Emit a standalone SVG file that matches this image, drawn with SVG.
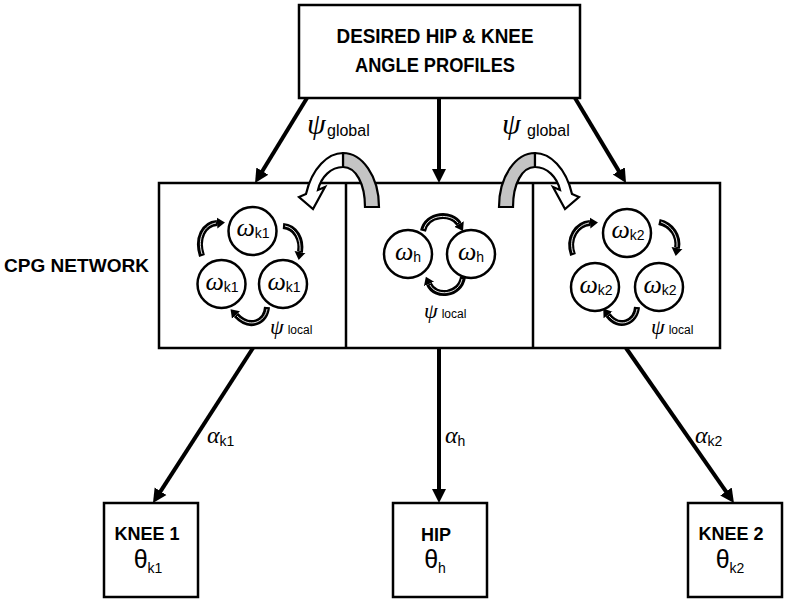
<svg xmlns="http://www.w3.org/2000/svg" width="787" height="602" viewBox="0 0 787 602">
<defs>
<style>
.box{fill:#fff;stroke:#000;stroke-width:2.5}
.div{stroke:#000;stroke-width:2.5}
.conn{fill:none;stroke:#000;stroke-width:4;marker-end:url(#ah)}
.cir{fill:#fff;stroke:#000;stroke-width:2.5}
.sa{fill:none;stroke:#000;stroke-width:6;marker-end:url(#sh)}
.sw{fill:none;stroke:#fff;stroke-width:0.9}
.bt{font-family:"Liberation Sans",Arial,sans-serif;font-weight:bold;fill:#000}
.gk{font-family:"Liberation Serif","DejaVu Serif",serif;font-style:italic;fill:#000}
.ss{font-family:"Liberation Sans",Arial,sans-serif;fill:#000}
.th{font-family:"Liberation Sans",Arial,sans-serif;fill:#000}
.arcw{fill:#fff;stroke:#000;stroke-width:2.2;stroke-linejoin:miter}
.arcg{fill:#c4c4c4;stroke:#000;stroke-width:2.2}
</style>
<marker id="ah" markerUnits="userSpaceOnUse" markerWidth="16" markerHeight="16" viewBox="0 -8 16 16" refX="6" refY="0" orient="auto">
<path d="M0,-7 L14,0 L0,7 Z" fill="#000"/>
</marker>
<marker id="sh" markerUnits="userSpaceOnUse" markerWidth="11" markerHeight="13" viewBox="0 -6.5 11 13" refX="0" refY="0" orient="auto">
<path d="M0,-5.5 L8,0 L0,5.5 Z" fill="#000"/>
</marker>
<g id="carc">
<path class="arcg" d="M343,153 C362,153 379,176 379,207 L365,207 C365,184 356,167 343,167 Z"/>
<path class="arcw" d="M343,153 C328,153 312,168 306,194 L299,197 L313,209 L325,187 L318,190 C321,177 331,167 343,167 Z"/>
</g>
</defs>
<rect width="787" height="602" fill="#fff"/>

<g id="connectors">
<line class="conn" x1="307" y1="98" x2="259.2" y2="176.2"/>
<line class="conn" x1="439" y1="98" x2="439" y2="175"/>
<line class="conn" x1="575" y1="98" x2="621.9" y2="176.1"/>
<line class="conn" x1="253" y1="348" x2="157.3" y2="496.3"/>
<line class="conn" x1="439" y1="348" x2="439" y2="495"/>
<line class="conn" x1="626" y1="348" x2="729.4" y2="496.4"/>
<g id="label-alpha-k1"><text x="207" y="443"><tspan class="gk" font-size="24">α</tspan><tspan class="ss" font-size="14" dy="3">k1</tspan></text></g>
<g id="label-alpha-h"><text x="445" y="443"><tspan class="gk" font-size="24">α</tspan><tspan class="ss" font-size="14" dy="3">h</tspan></text></g>
<g id="label-alpha-k2"><text x="695" y="443"><tspan class="gk" font-size="24">α</tspan><tspan class="ss" font-size="14" dy="3">k2</tspan></text></g>
</g>

<g id="desired">
<rect class="box" x="299" y="5" width="281" height="93"/>
<text class="bt" x="435" y="43" font-size="19.5" text-anchor="middle" textLength="197" lengthAdjust="spacingAndGlyphs">DESIRED HIP &amp; KNEE</text>
<text class="bt" x="435" y="72" font-size="19.5" text-anchor="middle" textLength="160" lengthAdjust="spacingAndGlyphs">ANGLE PROFILES</text>
</g>

<g id="cpg-label">
<text class="bt" x="4" y="272" font-size="19" textLength="145" lengthAdjust="spacingAndGlyphs">CPG NETWORK</text>
</g>

<g id="cpg-network">
<rect class="box" x="159" y="183" width="561" height="165"/>
<line class="div" x1="346" y1="183" x2="346" y2="348"/>
<line class="div" x1="533" y1="183" x2="533" y2="348"/>
</g>

<g id="cpg-knee1">
<circle class="cir" cx="252.5" cy="231" r="24"/>
<circle class="cir" cx="221.5" cy="284" r="24"/>
<circle class="cir" cx="283" cy="284" r="24"/>
<text x="253" y="236" text-anchor="middle"><tspan class="gk" font-size="26">ω</tspan><tspan class="ss" font-size="14" dy="2">k1</tspan></text>
<text x="222" y="290" text-anchor="middle"><tspan class="gk" font-size="26">ω</tspan><tspan class="ss" font-size="14" dy="2">k1</tspan></text>
<text x="284" y="290" text-anchor="middle"><tspan class="gk" font-size="26">ω</tspan><tspan class="ss" font-size="14" dy="2">k1</tspan></text>
<path class="sa" d="M202,256 C196,238 204,224 217,223"/>
<path class="sw" d="M202,254 C197,238 204,225 216,223"/>
<path class="sa" d="M283,226 C296,227 302,240 300,252"/>
<path class="sw" d="M285,226 C296,228 301,240 300,251"/>
<path class="sa" d="M267,307 C266,322 250,330 236,315"/>
<path class="sw" d="M267,309 C265,322 250,329 237,316"/>
<text x="270" y="334"><tspan class="gk" font-size="22">ψ</tspan><tspan class="ss" font-size="12" dx="4">local</tspan></text>
</g>

<g id="cpg-hip">
<circle class="cir" cx="408" cy="254" r="24"/>
<circle class="cir" cx="471" cy="254" r="24"/>
<text x="408" y="260" text-anchor="middle"><tspan class="gk" font-size="26">ω</tspan><tspan class="ss" font-size="14" dy="2">h</tspan></text>
<text x="471" y="260" text-anchor="middle"><tspan class="gk" font-size="26">ω</tspan><tspan class="ss" font-size="14" dy="2">h</tspan></text>
<path class="sa" d="M423,231 C427,213 452,212 459,224"/>
<path class="sw" d="M424,229 C428,214 451,213 458,223"/>
<path class="sa" d="M463,277 C460,296 435,298 429,284"/>
<path class="sw" d="M462,279 C459,295 436,297 430,285"/>
<text x="424" y="318"><tspan class="gk" font-size="22">ψ</tspan><tspan class="ss" font-size="12" dx="4">local</tspan></text>
</g>

<g id="cpg-knee2">
<circle class="cir" cx="627" cy="233" r="24"/>
<circle class="cir" cx="595" cy="287" r="24"/>
<circle class="cir" cx="659" cy="287" r="24"/>
<text x="628" y="238" text-anchor="middle"><tspan class="gk" font-size="26">ω</tspan><tspan class="ss" font-size="14" dy="2">k2</tspan></text>
<text x="596" y="293" text-anchor="middle"><tspan class="gk" font-size="26">ω</tspan><tspan class="ss" font-size="14" dy="2">k2</tspan></text>
<text x="660" y="293" text-anchor="middle"><tspan class="gk" font-size="26">ω</tspan><tspan class="ss" font-size="14" dy="2">k2</tspan></text>
<path class="sa" d="M573,255 C567,238 577,224 590,223"/>
<path class="sw" d="M573,253 C568,238 577,225 589,223"/>
<path class="sa" d="M659,222 C672,225 679,236 677,248"/>
<path class="sw" d="M661,222 C672,226 678,236 677,247"/>
<path class="sa" d="M637,307 C636,322 619,330 608,315"/>
<path class="sw" d="M637,309 C635,322 620,329 609,316"/>
<text x="651" y="334"><tspan class="gk" font-size="22">ψ</tspan><tspan class="ss" font-size="12" dx="4">local</tspan></text>
</g>

<g id="global-coupling-left">
<use href="#carc"/>
<text x="307" y="134"><tspan class="gk" font-size="30">ψ</tspan><tspan class="ss" font-size="16" x="327" y="136">global</tspan></text>
</g>
<g id="global-coupling-right">
<use href="#carc" transform="translate(878,0) scale(-1,1)"/>
<text x="502" y="134"><tspan class="gk" font-size="30">ψ</tspan><tspan class="ss" font-size="16" x="527" y="136">global</tspan></text>
</g>

<g id="knee1">
<rect class="box" x="104" y="503" width="94" height="94"/>
<text class="bt" x="147" y="540" font-size="18" text-anchor="middle">KNEE 1</text>
<text x="148" y="568" text-anchor="middle"><tspan class="th" font-size="25">θ</tspan><tspan class="th" font-size="14" dy="5">k1</tspan></text>
</g>
<g id="hip">
<rect class="box" x="393" y="503" width="94" height="94"/>
<text class="bt" x="436" y="541" font-size="18" text-anchor="middle">HIP</text>
<text x="435" y="568" text-anchor="middle"><tspan class="th" font-size="25">θ</tspan><tspan class="th" font-size="14" dy="5">h</tspan></text>
</g>
<g id="knee2">
<rect class="box" x="688" y="503" width="94" height="94"/>
<text class="bt" x="731" y="540" font-size="18" text-anchor="middle">KNEE 2</text>
<text x="730" y="568" text-anchor="middle"><tspan class="th" font-size="25">θ</tspan><tspan class="th" font-size="14" dy="5">k2</tspan></text>
</g>
</svg>
